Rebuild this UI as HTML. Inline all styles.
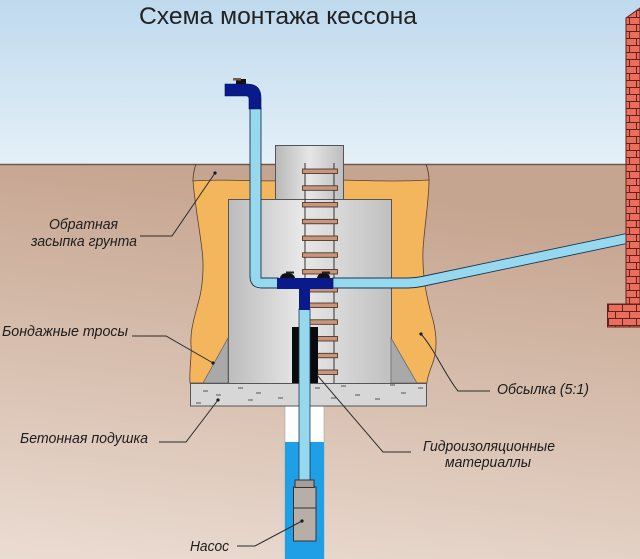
<!DOCTYPE html>
<html>
<head>
<meta charset="utf-8">
<style>
html,body{margin:0;padding:0;background:#fff;}
svg{display:block;}
.lbl{font-family:"Liberation Sans",Arial,sans-serif;font-style:italic;font-size:14.5px;fill:#1c1c1c;}
</style>
</head>
<body>
<svg width="640" height="559" viewBox="0 0 640 559" xmlns="http://www.w3.org/2000/svg">
<defs>
  <linearGradient id="sky" x1="0" y1="0" x2="0" y2="1">
    <stop offset="0" stop-color="#bfd9ee"/>
    <stop offset="1" stop-color="#e4f0f7"/>
  </linearGradient>
  <linearGradient id="ground" x1="0.2" y1="0" x2="0" y2="1">
    <stop offset="0" stop-color="#c6a590"/>
    <stop offset="0.5" stop-color="#d8c0b0"/>
    <stop offset="1" stop-color="#ebdcd2"/>
  </linearGradient>
  <linearGradient id="cais" x1="0" y1="0" x2="1" y2="0">
    <stop offset="0" stop-color="#bcbcbc"/>
    <stop offset="0.45" stop-color="#e8e8e8"/>
    <stop offset="1" stop-color="#c0c0c0"/>
  </linearGradient>
  <linearGradient id="neck" x1="0" y1="0" x2="1" y2="0">
    <stop offset="0" stop-color="#b8b8b8"/>
    <stop offset="0.5" stop-color="#e6e6e6"/>
    <stop offset="1" stop-color="#bdbdbd"/>
  </linearGradient>
  <pattern id="brick" x="626" y="17" width="14" height="14" patternUnits="userSpaceOnUse">
    <rect x="0" y="0" width="14" height="14" fill="#ea6d5d"/>
    <line x1="0" y1="0.5" x2="14" y2="0.5" stroke="#5e2418" stroke-width="1"/>
    <line x1="0" y1="7.5" x2="14" y2="7.5" stroke="#5e2418" stroke-width="1"/>
    <line x1="3.5" y1="0" x2="3.5" y2="7" stroke="#5e2418" stroke-width="1"/>
    <line x1="10.5" y1="7" x2="10.5" y2="14" stroke="#5e2418" stroke-width="1"/>
  </pattern>
</defs>

<!-- sky & ground -->
<rect x="0" y="0" width="640" height="165" fill="url(#sky)"/>
<rect x="0" y="164" width="640" height="395" fill="url(#ground)"/>
<line x1="0" y1="164.5" x2="640" y2="164.5" stroke="#6b5a50" stroke-width="1.5"/>

<!-- title -->
<text x="139" y="24" font-family="Liberation Sans, Arial, sans-serif" font-size="24" fill="#222" textLength="278" lengthAdjust="spacingAndGlyphs">Схема монтажа кессона</text>

<!-- pit outline lines above backfill -->
<path d="M196,164 C194,170 193,175 193,181" fill="none" stroke="#5a4030" stroke-width="0.9"/>
<path d="M426,164 C428,170 429,175 429,180" fill="none" stroke="#5a4030" stroke-width="0.9"/>

<!-- orange backfill -->
<path d="M193,181 C230,178 260,183 290,180 C330,178 380,183 429,180 C429,200 424,230 423,250 C422,275 427,300 433,320 C438,340 436,355 432,365 C429,373 427,380 427,383 L190,383 C189,370 192,355 191,345 C190,330 195,315 199,300 C203,285 204,265 202,250 C199,225 195,205 193,181 Z" fill="#f3b65c" stroke="#5a4030" stroke-width="0.8"/>

<!-- caisson neck & body -->
<rect x="275.5" y="145.5" width="68" height="54" fill="url(#neck)" stroke="#555" stroke-width="1"/>
<rect x="228.5" y="199.5" width="163" height="184" fill="url(#cais)" stroke="#555" stroke-width="1"/>

<!-- wedges -->
<polygon points="203,383 228,338 228,383" fill="#a9a9a9" stroke="#6a6a6a" stroke-width="0.8"/>
<polygon points="391,338 417,383 391,383" fill="#a9a9a9" stroke="#6a6a6a" stroke-width="0.8"/>

<!-- ladder -->
<line x1="305" y1="163" x2="305" y2="383" stroke="#333" stroke-width="1"/>
<line x1="334" y1="163" x2="334" y2="383" stroke="#333" stroke-width="1"/>
<g fill="#c9967b" stroke="#3a2820" stroke-width="0.8">
  <rect x="302.5" y="169" width="35" height="4.5"/>
  <rect x="302.5" y="185.8" width="35" height="4.5"/>
  <rect x="302.5" y="202.5" width="35" height="4.5"/>
  <rect x="302.5" y="219.3" width="35" height="4.5"/>
  <rect x="302.5" y="236" width="35" height="4.5"/>
  <rect x="302.5" y="252.8" width="35" height="4.5"/>
  <rect x="302.5" y="269.5" width="35" height="4.5"/>
  <rect x="302.5" y="287.5" width="35" height="4.5"/>
  <rect x="302.5" y="303" width="35" height="4.5"/>
  <rect x="302.5" y="319.8" width="35" height="4.5"/>
  <rect x="302.5" y="336.5" width="35" height="4.5"/>
  <rect x="302.5" y="353.3" width="35" height="4.5"/>
  <rect x="302.5" y="370" width="35" height="4.5"/>
</g>

<!-- waterproofing sleeve -->
<rect x="292" y="327" width="26" height="56" fill="#0a0a0a"/>

<!-- well casing & water -->
<rect x="285" y="406" width="39" height="153" fill="#ffffff" stroke="#9aa" stroke-width="0.6"/>
<rect x="285" y="442" width="39" height="117" fill="#1e9fe6"/>

<!-- concrete slab -->
<rect x="190.5" y="383.5" width="236" height="22.5" fill="#d7d7d7" stroke="#555" stroke-width="1"/>
<g stroke="#555" stroke-width="1">
  <line x1="203" y1="391" x2="208" y2="391"/>
  <line x1="216" y1="395" x2="221" y2="395"/>
  <line x1="238" y1="388" x2="243" y2="388"/>
  <line x1="256" y1="393" x2="261" y2="393"/>
  <line x1="248" y1="400" x2="253" y2="400"/>
  <line x1="278" y1="398" x2="283" y2="398"/>
  <line x1="196" y1="403" x2="201" y2="403"/>
  <line x1="315" y1="388" x2="320" y2="388"/>
  <line x1="341" y1="386" x2="346" y2="386"/>
  <line x1="355" y1="395" x2="360" y2="395"/>
  <line x1="375" y1="399" x2="380" y2="399"/>
  <line x1="401" y1="393" x2="406" y2="393"/>
  <line x1="418" y1="388" x2="423" y2="388"/>
  <line x1="331" y1="398" x2="336" y2="398"/>
  <line x1="390" y1="385" x2="395" y2="385"/>
</g>

<!-- vertical pipe down to pump -->
<rect x="299" y="309" width="11" height="172" fill="#96d9ef" stroke="#1d3550" stroke-width="0.8"/>

<!-- pump -->
<rect x="293.5" y="487" width="22.5" height="54" fill="#b7aea8" stroke="#333" stroke-width="1"/>
<rect x="295" y="480" width="19" height="7.5" fill="#a79e98" stroke="#333" stroke-width="1"/>
<line x1="293.5" y1="508" x2="316" y2="508" stroke="#333" stroke-width="1"/>

<!-- outdoor pipe -->
<path d="M250,108 L250,276 Q250,288 262,288 L278,288 L278,278 L261,278 L261,108 Z" fill="#96d9ef" stroke="#1d3550" stroke-width="0.9"/>
<!-- gooseneck -->
<path d="M225,84 L247,84 Q261,84 261,98 L261,109 L249,109 L249,99 Q249,96 246,96 L225,96 Z" fill="#0b1a8a" stroke="#061050" stroke-width="0.6"/>
<rect x="236" y="79" width="10" height="5" fill="#111"/>
<rect x="233" y="78" width="8" height="2.5" fill="#7a5a48"/>

<!-- pipe to house -->
<path d="M333,278 L408,278 Q415,278 422,276.5 L640,230.7 L640,240.7 L422,286.5 Q415,288 408,288 L333,288 Z" fill="#96d9ef" stroke="#1d3550" stroke-width="0.9"/>

<!-- T fitting -->
<rect x="277" y="278" width="56" height="11" fill="#0b1a8a"/>
<rect x="299" y="289" width="11" height="21" fill="#0b1a8a"/>
<path d="M280,278 Q281,273 287,273 Q294,273 295,278 Z" fill="#111"/>
<path d="M317,278 Q318,273 323,273 Q330,273 330,278 Z" fill="#111"/>
<rect x="286" y="271.5" width="8" height="2" fill="#222"/>
<rect x="322" y="271.5" width="8" height="2" fill="#222"/>

<!-- brick wall -->
<polygon points="626,18 640,8 640,304 626,304" fill="url(#brick)" stroke="#5e2418" stroke-width="1"/>
<rect x="607.5" y="304" width="33" height="23" fill="url(#brick)" stroke="#5e2418" stroke-width="1"/>

<!-- leaders -->
<g fill="none" stroke="#2a2a2a" stroke-width="1">
  <polyline points="140,236 172,236 215,173"/>
  <polyline points="132,336 166,336 213,363"/>
  <polyline points="159,442 186,442 218,400"/>
  <polyline points="411,452 383,452 317,375"/>
  <path d="M421,334 C435,350 445,375 458,391 L490,391"/>
  <polyline points="237,546 255,546 302,521"/>
</g>
<g fill="#1a1a1a">
  <circle cx="215" cy="173" r="1.6"/>
  <circle cx="213" cy="363" r="1.6"/>
  <circle cx="218" cy="400" r="1.6"/>
  <circle cx="421" cy="334" r="1.6"/>
  <circle cx="302" cy="521" r="1.6"/>
</g>

<!-- labels -->
<text class="lbl" x="49" y="229" textLength="69" lengthAdjust="spacingAndGlyphs">Обратная</text>
<text class="lbl" x="31" y="246" textLength="106" lengthAdjust="spacingAndGlyphs">засыпка грунта</text>
<text class="lbl" x="2" y="336" textLength="126" lengthAdjust="spacingAndGlyphs">Бондажные тросы</text>
<text class="lbl" x="20" y="443" textLength="128" lengthAdjust="spacingAndGlyphs">Бетонная подушка</text>
<text class="lbl" x="423" y="451" textLength="132" lengthAdjust="spacingAndGlyphs">Гидроизоляционные</text>
<text class="lbl" x="445" y="467" textLength="86" lengthAdjust="spacingAndGlyphs">материаллы</text>
<text class="lbl" x="497" y="394" textLength="92" lengthAdjust="spacingAndGlyphs">Обсылка (5:1)</text>
<text class="lbl" x="190" y="551" textLength="39" lengthAdjust="spacingAndGlyphs">Насос</text>
</svg>
</body>
</html>
